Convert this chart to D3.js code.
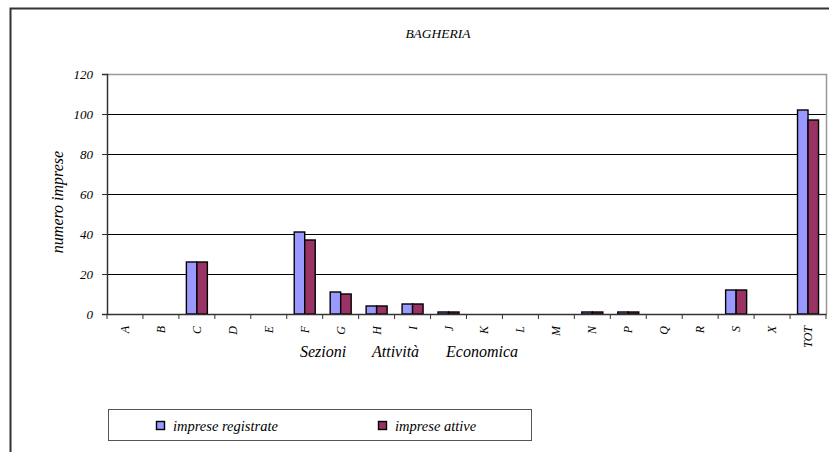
<!DOCTYPE html>
<html>
<head>
<meta charset="utf-8">
<script src="https://cdn.jsdelivr.net/npm/d3@7"></script>
<style>
  body { margin: 0; background: #fff; }
</style>
</head>
<body>
<div id="chart"></div>
<script>
var categories = ['A', 'B', 'C', 'D', 'E', 'F', 'G', 'H', 'I', 'J', 'K', 'L', 'M', 'N', 'P', 'Q', 'R', 'S', 'X', 'TOT']
var registrate = [0, 0, 26, 0, 0, 41, 11, 4, 5, 1, 0, 0, 0, 1, 1, 0, 0, 12, 0, 102]
var attive = [0, 0, 26, 0, 0, 37, 10, 4, 5, 1, 0, 0, 0, 1, 1, 0, 0, 12, 0, 97]
var seriesNames = ['imprese registrate', 'imprese attive']
var seriesColors = ['#9999ff', '#993366']
var yTicks = [0, 20, 40, 60, 80, 100, 120]

var FONT = "'Liberation Serif', 'Times New Roman', serif"
var W = 829, H = 452
var plot = { left: 107, right: 826, top: 74, bottom: 314 }

var svg = d3.select('#chart').append('svg')
  .attr('width', W)
  .attr('height', H)
  .attr('font-family', FONT)

// outer chart frame
svg.append('rect')
  .attr('x', 10.5).attr('y', 8.5)
  .attr('width', W + 20).attr('height', H + 20)
  .attr('fill', 'none')
  .attr('stroke', '#333')
  .attr('stroke-width', 2)

var x = d3.scaleBand().domain(categories).range([plot.left, plot.right])
var y = d3.scaleLinear().domain([0, 120]).range([plot.bottom, plot.top])

var groupW = 21
var barW = groupW / 2

// grid lines
svg.append('g')
  .selectAll('line')
  .data(yTicks.filter(function (d) { return d > 0 && d < 120 }))
  .enter().append('line')
  .attr('x1', plot.left).attr('x2', plot.right)
  .attr('y1', function (d) { return Math.round(y(d)) + 0.5 })
  .attr('y2', function (d) { return Math.round(y(d)) + 0.5 })
  .attr('stroke', '#000')
  .attr('stroke-width', 1)

// plot area border (top & right in gray)
svg.append('path')
  .attr('d', 'M' + plot.left + ',' + (plot.top + 0.5) + 'H' + (plot.right + 0.5) + 'V' + plot.bottom)
  .attr('fill', 'none')
  .attr('stroke', '#999')
  .attr('stroke-width', 1.5)

// bars
var data = categories.map(function (c, i) {
  return { cat: c, values: [registrate[i], attive[i]] }
})

var groups = svg.append('g').selectAll('g')
  .data(data)
  .enter().append('g')
  .attr('transform', function (d) {
    return 'translate(' + (x(d.cat) + x.bandwidth() / 2 - groupW / 2) + ',0)'
  })

groups.selectAll('rect')
  .data(function (d) { return d.values.map(function (v, j) { return { v: v, j: j } }).filter(function (d) { return d.v > 0 }) })
  .enter().append('rect')
  .attr('x', function (d) { return d.j * barW })
  .attr('y', function (d) { return y(d.v) })
  .attr('width', barW)
  .attr('height', function (d) { return y(0) - y(d.v) })
  .attr('fill', function (d) { return seriesColors[d.j] })
  .attr('stroke', '#000')
  .attr('stroke-width', 1.4)

// y axis
var yAxis = d3.axisLeft(y).tickValues(yTicks).tickSize(5).tickPadding(9)
var gy = svg.append('g')
  .attr('transform', 'translate(' + plot.left + ',0)')
  .call(yAxis)
  .attr('font-family', FONT)
  .attr('font-size', 13)
gy.select('.domain').attr('stroke', '#333').attr('stroke-width', 1.5)
gy.selectAll('.tick line').attr('stroke', '#333')
gy.selectAll('.tick text').attr('font-style', 'italic')

// x axis
var xAxis = d3.axisBottom(x).tickSize(0).tickFormat('')
var gx = svg.append('g')
  .attr('transform', 'translate(0,' + plot.bottom + ')')
  .call(xAxis)
gx.select('.domain').attr('stroke', '#333').attr('stroke-width', 1.5)

// x tick marks at band boundaries
gx.append('g').selectAll('line')
  .data(categories.concat(['__end']))
  .enter().append('line')
  .attr('x1', function (d, i) { return plot.left + i * x.bandwidth() })
  .attr('x2', function (d, i) { return plot.left + i * x.bandwidth() })
  .attr('y1', 0).attr('y2', 5)
  .attr('stroke', '#333')

// x category labels rotated
svg.append('g').selectAll('text')
  .data(categories)
  .enter().append('text')
  .attr('transform', function (d) {
    return 'translate(' + (x(d) + x.bandwidth() / 2 + 4) + ',' + (plot.bottom + 12) + ') rotate(-90)'
  })
  .attr('text-anchor', 'end')
  .attr('font-style', 'italic')
  .attr('font-size', 12)
  .text(function (d) { return d })

// x axis title
var xTitle = [['Sezioni', 300], ['Attività', 372], ['Economica', 446]]
svg.append('g').selectAll('text')
  .data(xTitle)
  .enter().append('text')
  .attr('x', function (d) { return d[1] })
  .attr('y', 357)
  .attr('font-style', 'italic')
  .attr('font-size', 16)
  .text(function (d) { return d[0] })

// y axis title
svg.append('text')
  .attr('transform', 'translate(63,202) rotate(-90)')
  .attr('text-anchor', 'middle')
  .attr('font-style', 'italic')
  .attr('font-size', 16)
  .text('numero imprese')

// chart title
svg.append('text')
  .attr('x', 438).attr('y', 38)
  .attr('text-anchor', 'middle')
  .attr('font-style', 'italic')
  .attr('font-size', 13.5)
  .text('BAGHERIA')

// legend
var legend = svg.append('g')
legend.append('rect')
  .attr('x', 108.5).attr('y', 409.5)
  .attr('width', 423).attr('height', 31)
  .attr('fill', '#fff')
  .attr('stroke', '#555')
  .attr('stroke-width', 1)

var legendX = [156, 378]
seriesNames.forEach(function (name, i) {
  legend.append('rect')
    .attr('x', legendX[i] + 0.5).attr('y', 421.5)
    .attr('width', 8).attr('height', 8)
    .attr('fill', seriesColors[i])
    .attr('stroke', '#000')
    .attr('stroke-width', 1.4)
  legend.append('text')
    .attr('x', legendX[i] + 17).attr('y', 431)
    .attr('font-style', 'italic')
    .attr('font-size', 14.5)
    .text(name)
})
</script>
</body>
</html>
